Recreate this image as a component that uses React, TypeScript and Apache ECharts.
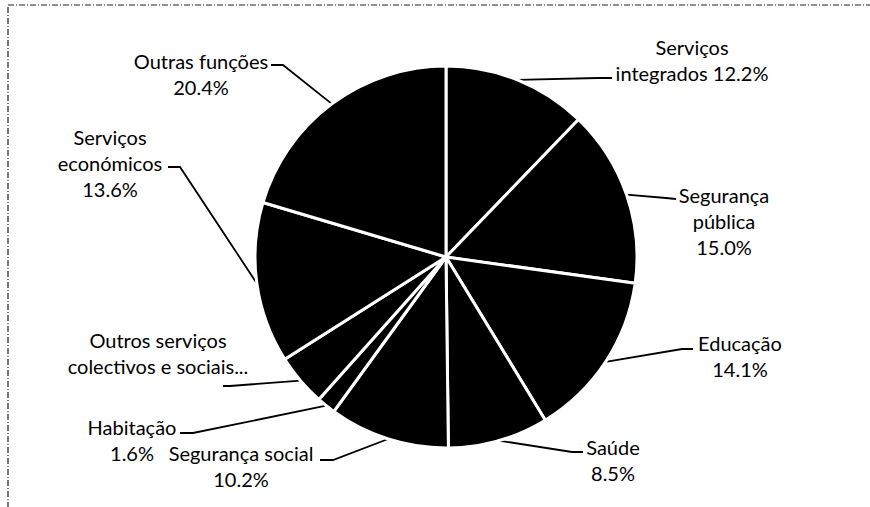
import React, { useEffect, useRef } from "react";
import * as echarts from "echarts";

const categories = [
  "Serviços integrados",
  "Segurança pública",
  "Educação",
  "Saúde",
  "Segurança social",
  "Habitação",
  "Outros serviços colectivos e sociais",
  "Serviços económicos",
  "Outras funções",
];
const values = [12.2, 15.0, 14.1, 8.5, 10.2, 1.6, 4.4, 13.6, 20.4];

// label text as it is wrapped in the picture
const labelNames = [
  "Serviços\nintegrados",
  "Segurança\npública",
  "Educação",
  "Saúde",
  "Segurança social",
  "Habitação",
  "Outros serviços\ncolectivos e sociais...",
  "Serviços\neconómicos",
  "Outras funções",
];
const labelSep = [" ", "\n", "\n", "\n", "\n", "\n", "", "\n", "\n"];
const showPct = [true, true, true, true, true, true, false, true, true];

// layout: [textCenterX, textCenterY, elbowX, elbowY, endX, endY]
const labelLayoutPos = [
  [692, 60, 598, 78, 612, 78],
  [724, 221, 666, 198, 676, 199],
  [740, 356, 682, 349, 693, 349],
  [613, 460, 572, 452, 583, 452],
  [241, 466, 333, 460, 320, 460],
  [132, 440, 193, 433, 180, 433],
  [158, 353, 230, 386, 223, 386],
  [110, 163, 180, 167, 168, 167],
  [201, 74, 283, 65, 271, 65],
];

export default function App() {
  const ref = useRef<HTMLDivElement>(null);
  useEffect(() => {
    if (!ref.current) return;
    const chart = echarts.init(ref.current, null, { renderer: "svg" });
    chart.setOption({
      animation: false,
      backgroundColor: "#ffffff",
      textStyle: { fontFamily: "Lato" },
      graphic: [
        {
          type: "rect",
          shape: { x: 8, y: 5, width: 900, height: 600 },
          style: { fill: "none", stroke: "#222", lineWidth: 1.2, lineDash: [6, 2, 1, 2] },
          silent: true,
        },
      ],
      series: [
        {
          type: "pie",
          center: [446, 257],
          radius: [0, 191],
          startAngle: 90,
          clockwise: true,
          avoidLabelOverlap: false,
          itemStyle: { color: "#000", borderColor: "#fff", borderWidth: 3 },
          label: {
            show: true,
            position: "outside",
            color: "#000",
            fontSize: 20,
            lineHeight: 26,
            align: "center",
            fontFamily: "Lato",
            formatter: (p: any) => {
              const i = p.dataIndex;
              return labelNames[i] + labelSep[i] + (showPct[i] ? values[i].toFixed(1) + "%" : "");
            },
          },
          labelLine: {
            show: true,
            length: 10,
            length2: 10,
            lineStyle: { color: "#000", width: 1.8 },
          },
          labelLayout: (params: any) => {
            const pos = labelLayoutPos[params.dataIndex];
            const pts = params.labelLinePoints;
            return {
              x: pos[0],
              y: pos[1],
              align: "center",
              verticalAlign: "middle",
              labelLinePoints: pts
                ? [pts[0], [pos[2], pos[3]], [pos[4], pos[5]]]
                : undefined,
            };
          },
          emphasis: { disabled: true },
          data: categories.map((name, i) => ({ name, value: values[i] })),
        },
      ],
    });
    return () => chart.dispose();
  }, []);
  return (
    <div
      ref={ref}
      style={{ position: "fixed", left: 0, top: 0, width: 870, height: 507 }}
    />
  );
}
